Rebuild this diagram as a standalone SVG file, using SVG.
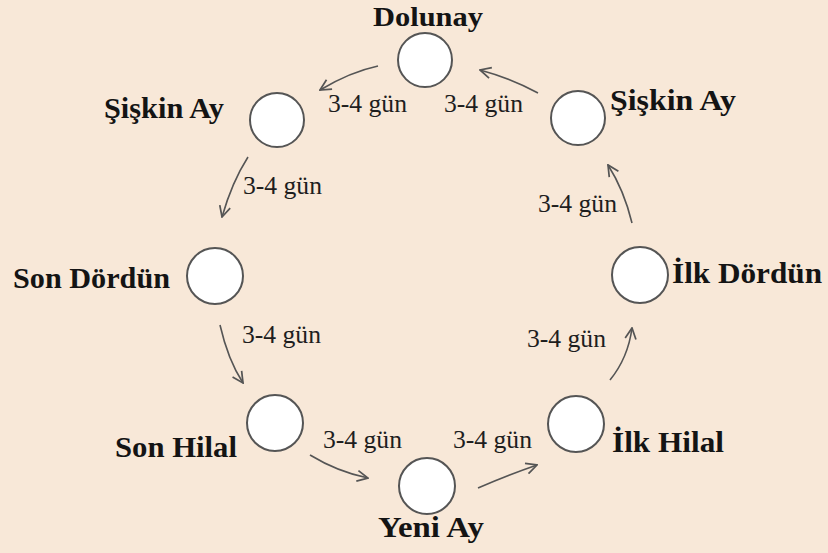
<svg xmlns="http://www.w3.org/2000/svg" width="828" height="553" viewBox="0 0 828 553">
<defs>
<style>
.moon{fill:#ffffff;stroke:#555555;stroke-width:2}
.lbl{font-family:'Liberation Serif',serif;font-weight:bold;font-size:30px;fill:#141414}
.dur{font-family:'Liberation Serif',serif;font-size:25px;fill:#1e1e1e}
.arr{fill:none;stroke:#555555;stroke-width:1.6;marker-end:url(#ah)}
</style>
<marker id="ah" viewBox="0 0 12 12" refX="11" refY="6" markerWidth="13" markerHeight="13" markerUnits="userSpaceOnUse" orient="auto">
<path d="M1,1 L11,6 L1,11" fill="none" stroke="#555555" stroke-width="1.6"/>
</marker>
</defs>
<rect width="828" height="553" fill="#f8e8d8"/>
<g id="connectors">
<path class="arr" d="M378,66 Q350,72 320,90"/>
<path class="arr" d="M538,93 Q510,78 480,70"/>
<path class="arr" d="M248,157 Q232,182 222,217"/>
<path class="arr" d="M220,325 Q228,360 243,383"/>
<path class="arr" d="M310,455 Q338,472 368,478"/>
<path class="arr" d="M478,488 Q508,475 537,465"/>
<path class="arr" d="M610,380 Q628,358 632,328"/>
<path class="arr" d="M632,223 Q624,190 608,165"/>
<text class="dur" x="328" y="112" textLength="79" lengthAdjust="spacingAndGlyphs">3-4 gün</text>
<text class="dur" x="444" y="112" textLength="79" lengthAdjust="spacingAndGlyphs">3-4 gün</text>
<text class="dur" x="243" y="194" textLength="79" lengthAdjust="spacingAndGlyphs">3-4 gün</text>
<text class="dur" x="242" y="343" textLength="79" lengthAdjust="spacingAndGlyphs">3-4 gün</text>
<text class="dur" x="538" y="212" textLength="79" lengthAdjust="spacingAndGlyphs">3-4 gün</text>
<text class="dur" x="527" y="347" textLength="79" lengthAdjust="spacingAndGlyphs">3-4 gün</text>
<text class="dur" x="323" y="448" textLength="79" lengthAdjust="spacingAndGlyphs">3-4 gün</text>
<text class="dur" x="453" y="448" textLength="79" lengthAdjust="spacingAndGlyphs">3-4 gün</text>
</g>
<g id="dolunay"><circle class="moon" cx="425" cy="60" r="27"/><text class="lbl" x="373" y="26" style="font-size:28px" textLength="110" lengthAdjust="spacingAndGlyphs">Dolunay</text></g>
<g id="siskin-ay-sol"><circle class="moon" cx="277" cy="120" r="27"/><text class="lbl" x="104" y="118" textLength="120" lengthAdjust="spacingAndGlyphs">Şişkin Ay</text></g>
<g id="siskin-ay-sag"><circle class="moon" cx="578" cy="118" r="27"/><text class="lbl" x="610" y="110" textLength="126" lengthAdjust="spacingAndGlyphs">Şişkin Ay</text></g>
<g id="son-dordun"><circle class="moon" cx="215" cy="276" r="28"/><text class="lbl" x="13" y="288" textLength="157" lengthAdjust="spacingAndGlyphs">Son Dördün</text></g>
<g id="ilk-dordun"><circle class="moon" cx="640" cy="275" r="28"/><text class="lbl" x="672" y="283" textLength="150" lengthAdjust="spacingAndGlyphs">İlk Dördün</text></g>
<g id="son-hilal"><circle class="moon" cx="275" cy="423" r="28"/><text class="lbl" x="115" y="457" textLength="122" lengthAdjust="spacingAndGlyphs">Son Hilal</text></g>
<g id="ilk-hilal"><circle class="moon" cx="576" cy="424" r="28"/><text class="lbl" x="612" y="452" textLength="112" lengthAdjust="spacingAndGlyphs">İlk Hilal</text></g>
<g id="yeni-ay"><circle class="moon" cx="427" cy="486" r="28"/><text class="lbl" x="378" y="537" textLength="106" lengthAdjust="spacingAndGlyphs">Yeni Ay</text></g>
</svg>
